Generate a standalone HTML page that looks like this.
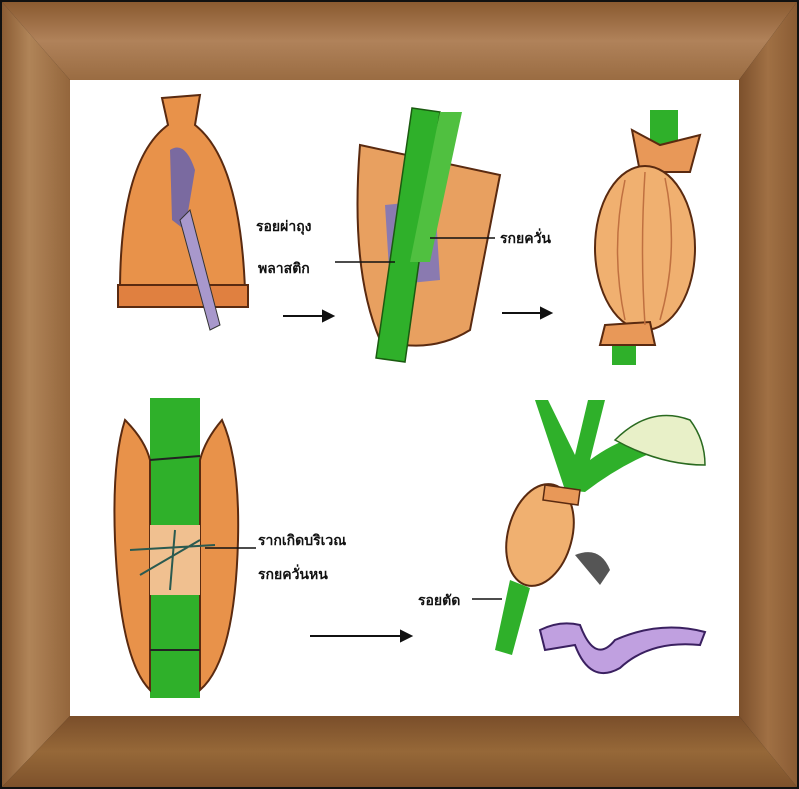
<!DOCTYPE html>
<html><head><meta charset="utf-8"><style>
html,body{margin:0;padding:0;background:#fff}
svg{display:block}
text{font-family:"Liberation Sans","Noto Sans CJK SC",sans-serif;font-size:14px;font-weight:bold;fill:#111}
</style></head><body>
<svg width="799" height="789" viewBox="0 0 799 789" xmlns="http://www.w3.org/2000/svg">
<defs>
<linearGradient id="wt" x1="0" y1="0" x2="0" y2="1"><stop offset="0" stop-color="#8a5a30"/><stop offset="0.5" stop-color="#b0825a"/><stop offset="1" stop-color="#9a6c42"/></linearGradient>
<linearGradient id="wl" x1="0" y1="0" x2="1" y2="0"><stop offset="0" stop-color="#8a5c34"/><stop offset="0.4" stop-color="#b08458"/><stop offset="1" stop-color="#94663c"/></linearGradient>
<linearGradient id="wb" x1="0" y1="0" x2="0" y2="1"><stop offset="0" stop-color="#7a4e2a"/><stop offset="0.5" stop-color="#966838"/><stop offset="1" stop-color="#7e522c"/></linearGradient>
<linearGradient id="wr" x1="0" y1="0" x2="1" y2="0"><stop offset="0" stop-color="#7c502c"/><stop offset="0.5" stop-color="#a07044"/><stop offset="1" stop-color="#8a5c34"/></linearGradient>
</defs>
<rect x="0" y="0" width="799" height="789" fill="#111"/>
<polygon points="2,2 797,2 739,80 70,80" fill="url(#wt)"/>
<polygon points="2,2 70,80 70,716 2,787" fill="url(#wl)"/>
<polygon points="2,787 70,716 739,716 797,787" fill="url(#wb)"/>
<polygon points="797,2 797,787 739,716 739,80" fill="url(#wr)"/>
<rect x="70" y="80" width="669" height="636" fill="#fff"/>

<!-- bag 1 -->
<path d="M162,98 L200,95 L195,125 Q240,160 245,290 L120,292 Q120,160 168,125 Z" fill="#e8924a" stroke="#5a2a10" stroke-width="2"/>
<rect x="118" y="285" width="130" height="22" fill="#e08040" stroke="#5a2a10" stroke-width="2"/>
<path d="M170,150 Q185,140 195,170 L185,230 L172,220 Z" fill="#7a6aa0"/>
<polygon points="180,220 190,210 220,325 210,330" fill="#a898cc" stroke="#333" stroke-width="1"/>

<!-- bag 2 -->
<path d="M360,145 L500,175 L470,330 Q430,355 380,340 Q350,270 360,145 Z" fill="#e8a060" stroke="#5a2a10" stroke-width="2"/>
<path d="M385,205 L435,200 L440,280 L390,285 Z" fill="#8a7ab0"/>
<polygon points="412,108 440,112 405,362 376,358" fill="#2fb02a" stroke="#1a5a10" stroke-width="1.5"/>
<polygon points="440,112 462,112 430,262 410,262" fill="#50c040"/>

<!-- bag 3 -->
<rect x="650" y="110" width="28" height="40" fill="#2fb02a"/>
<rect x="612" y="325" width="24" height="40" fill="#2fb02a"/>
<path d="M632,130 L660,145 L700,135 L690,172 L640,172 Z" fill="#e89858" stroke="#5a2a10" stroke-width="2"/>
<ellipse cx="645" cy="248" rx="50" ry="82" fill="#f0b070" stroke="#5a2a10" stroke-width="2"/>
<path d="M605,325 L650,322 L655,345 L600,345 Z" fill="#e89858" stroke="#5a2a10" stroke-width="2"/>
<path d="M625,180 Q610,250 625,320 M645,172 Q640,250 645,325 M665,178 Q680,250 660,320" stroke="#c07040" stroke-width="1.5" fill="none"/>

<!-- bag 4 -->
<rect x="150" y="398" width="50" height="300" fill="#2fb02a"/>
<path d="M125,420 Q145,440 150,460 L150,690 Q120,660 115,540 Q112,460 125,420 Z" fill="#e8924a" stroke="#5a2a10" stroke-width="2"/>
<path d="M222,420 Q205,440 200,460 L200,690 Q235,660 238,540 Q240,460 222,420 Z" fill="#e8924a" stroke="#5a2a10" stroke-width="2"/>
<rect x="150" y="525" width="50" height="70" fill="#f0c090"/>
<path d="M130,550 L215,545 M140,575 L200,540 M175,530 L170,590" stroke="#2a5a50" stroke-width="2"/>
<line x1="150" y1="460" x2="200" y2="456" stroke="#222" stroke-width="2"/>
<line x1="150" y1="650" x2="200" y2="650" stroke="#222" stroke-width="2"/>

<!-- plant 5 -->
<path d="M535,400 L548,400 L575,455 L588,400 L605,400 L590,460 Q630,430 690,425 L695,440 Q640,450 585,492 L565,490 Z" fill="#2fb02a"/>
<path d="M615,440 Q650,405 690,420 Q705,440 705,465 Q660,465 615,440 Z" fill="#e8f0c8" stroke="#2a6a20" stroke-width="1.5"/>
<ellipse cx="540" cy="535" rx="32" ry="52" transform="rotate(15 540 535)" fill="#f0b070" stroke="#5a2a10" stroke-width="2"/>
<path d="M545,485 L580,490 L578,505 L543,500 Z" fill="#e89858" stroke="#5a2a10" stroke-width="1.5"/>
<polygon points="510,580 530,588 512,655 495,650" fill="#2fb02a"/>
<path d="M540,630 Q560,620 580,625 Q595,665 615,640 Q660,620 705,632 L700,645 Q650,640 620,668 Q590,685 575,645 L545,650 Z" fill="#c0a0e0" stroke="#3a2060" stroke-width="2"/>
<path d="M575,555 Q600,545 610,570 L600,585 Z" fill="#555"/>

<!-- arrows -->
<g stroke="#111" stroke-width="2" fill="#111">
<line x1="283" y1="316" x2="325" y2="316"/><polygon points="333,316 323,311 323,321"/>
<line x1="502" y1="313" x2="543" y2="313"/><polygon points="551,313 541,308 541,318"/>
<line x1="310" y1="636" x2="403" y2="636"/><polygon points="411,636 401,631 401,641"/>
<line x1="335" y1="262" x2="395" y2="262" stroke-width="1.5"/>
<line x1="430" y1="238" x2="495" y2="238" stroke-width="1.5"/>
<line x1="205" y1="548" x2="256" y2="548" stroke-width="1.5"/>
<line x1="472" y1="599" x2="502" y2="599" stroke-width="1.5"/>
</g>

<text x="256" y="231">รอยผ่าถุง</text>
<text x="258" y="273">พลาสติก</text>
<text x="500" y="243">รกยควั่น</text>
<text x="258" y="545">รากเกิดบริเวณ</text>
<text x="258" y="579">รกยควั่นหน</text>
<text x="418" y="605">รอยตัด</text>
</svg>
</body></html>
